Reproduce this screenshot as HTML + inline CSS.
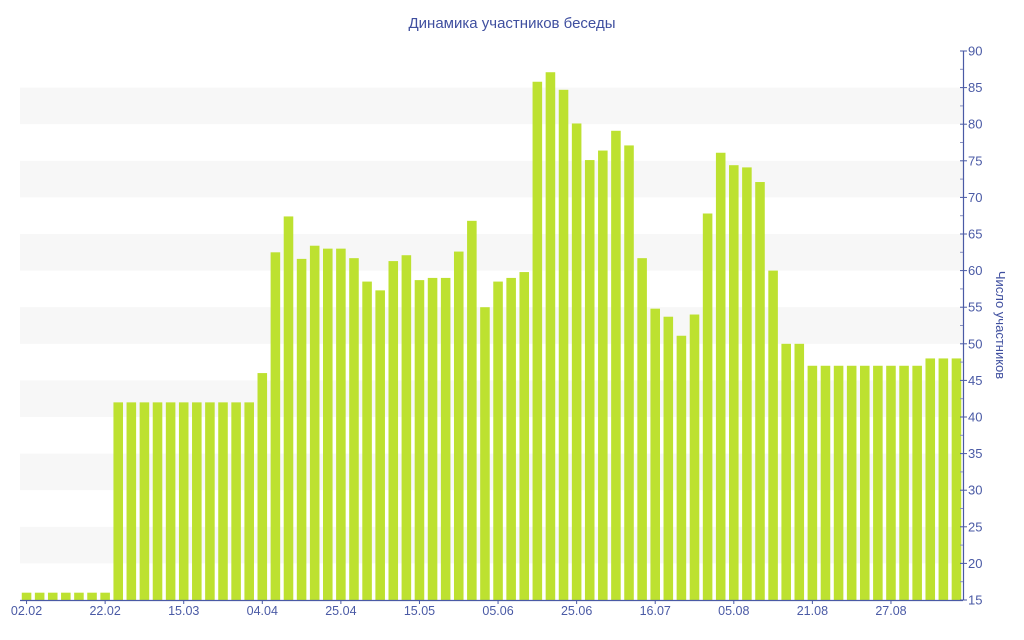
<!DOCTYPE html>
<html><head><meta charset="utf-8"><style>
body{margin:0;background:#fff;}
svg{display:block;font-family:"Liberation Sans","DejaVu Sans",sans-serif;}
</style></head><body>
<svg id="chart" width="1024" height="640" viewBox="0 0 1024 640">
<text x="512" y="28" text-anchor="middle" font-size="15" fill="#3f4f9f">Динамика участников беседы</text>
<g id="bands"></g>
<g id="bars"></g>
<g id="xaxis"></g>
<g id="yaxis"></g>
<text transform="translate(996,325) rotate(90)" text-anchor="middle" font-size="13" fill="#3f4f9f">Число участников</text>
</svg>
<script>
const values = [16,16,16,16,16,16,16,
42,42,42,42,42,42,42,42,42,42,42,
46,62.5,67.4,61.6,63.4,63,63,61.7,58.5,57.3,61.3,62.1,58.7,59,59,62.6,66.8,
55,58.5,59,59.8,
85.8,87.1,84.7,80.1,75.1,76.4,79.1,77.1,
61.7,54.8,53.7,51.1,54,
67.8,76.1,74.4,74.1,72.1,60,
50,50,
47,47,47,47,47,47,47,47,47,
48,48,48];
const xLabels = ["02.02","22.02","15.03","04.04","25.04","15.05","05.06","25.06","16.07","05.08","21.08","27.08"];
const xLabelStep = 6;
const yTicks = [15,20,25,30,35,40,45,50,55,60,65,70,75,80,85,90];

const NS="http://www.w3.org/2000/svg";
const L=20,R=963,T=51,B=600,yMin=15,yMax=90;
const band=(R-L)/values.length;
const xc=i=>L+band*(i+0.5);
const y=v=>B-(v-yMin)/(yMax-yMin)*(B-T);
function mk(tag,attrs,parent){const e=document.createElementNS(NS,tag);for(const k in attrs)e.setAttribute(k,attrs[k]);parent.appendChild(e);return e;}
const gB=document.getElementById('bands'),gBars=document.getElementById('bars'),gX=document.getElementById('xaxis'),gY=document.getElementById('yaxis');
for(let k=0;k<yTicks.length-1;k++){
  if(k%2===1){
    const r=mk('rect',{x:L,y:y(yTicks[k+1]),width:R-L,height:y(yTicks[k])-y(yTicks[k+1]),fill:'#f7f7f7'},gB);
    
    
  }
}
values.forEach((v,i)=>{
  const w=band*0.73;
  const r=mk('rect',{x:xc(i)-w/2,y:y(v),width:w,height:B-y(v),fill:'#bde130'},gBars);
  
  
});
mk('line',{x1:L,x2:R,y1:B+0.5,y2:B+0.5,stroke:'#4a5aa5','stroke-width':1.2},gX);
xLabels.forEach((t,k)=>{
  const i=k*xLabelStep;
  mk('line',{x1:xc(i),x2:xc(i),y1:B,y2:B+4,stroke:'#4a5aa5'},gX);
  const tx=mk('text',{x:xc(i),y:B+15,'text-anchor':'middle','font-size':12.5,fill:'#4a5aa5'},gX);
  tx.textContent=t;
  
  
});
mk('line',{x1:R+0.5,x2:R+0.5,y1:T,y2:B,stroke:'#4a5aa5','stroke-width':1.2},gY);
yTicks.forEach((v,k)=>{
  mk('line',{x1:R-3,x2:R+4,y1:y(v),y2:y(v),stroke:'#4a5aa5'},gY);
  if(k<yTicks.length-1){const m=(v+yTicks[k+1])/2;mk('line',{x1:R-3,x2:R,y1:y(m),y2:y(m),stroke:'#8890c0'},gY);}
  const tx=mk('text',{x:R+5,y:y(v)+4.5,'font-size':13,fill:'#4a5aa5'},gY);
  tx.textContent=v;
  
  
});
</script>
</body></html>
